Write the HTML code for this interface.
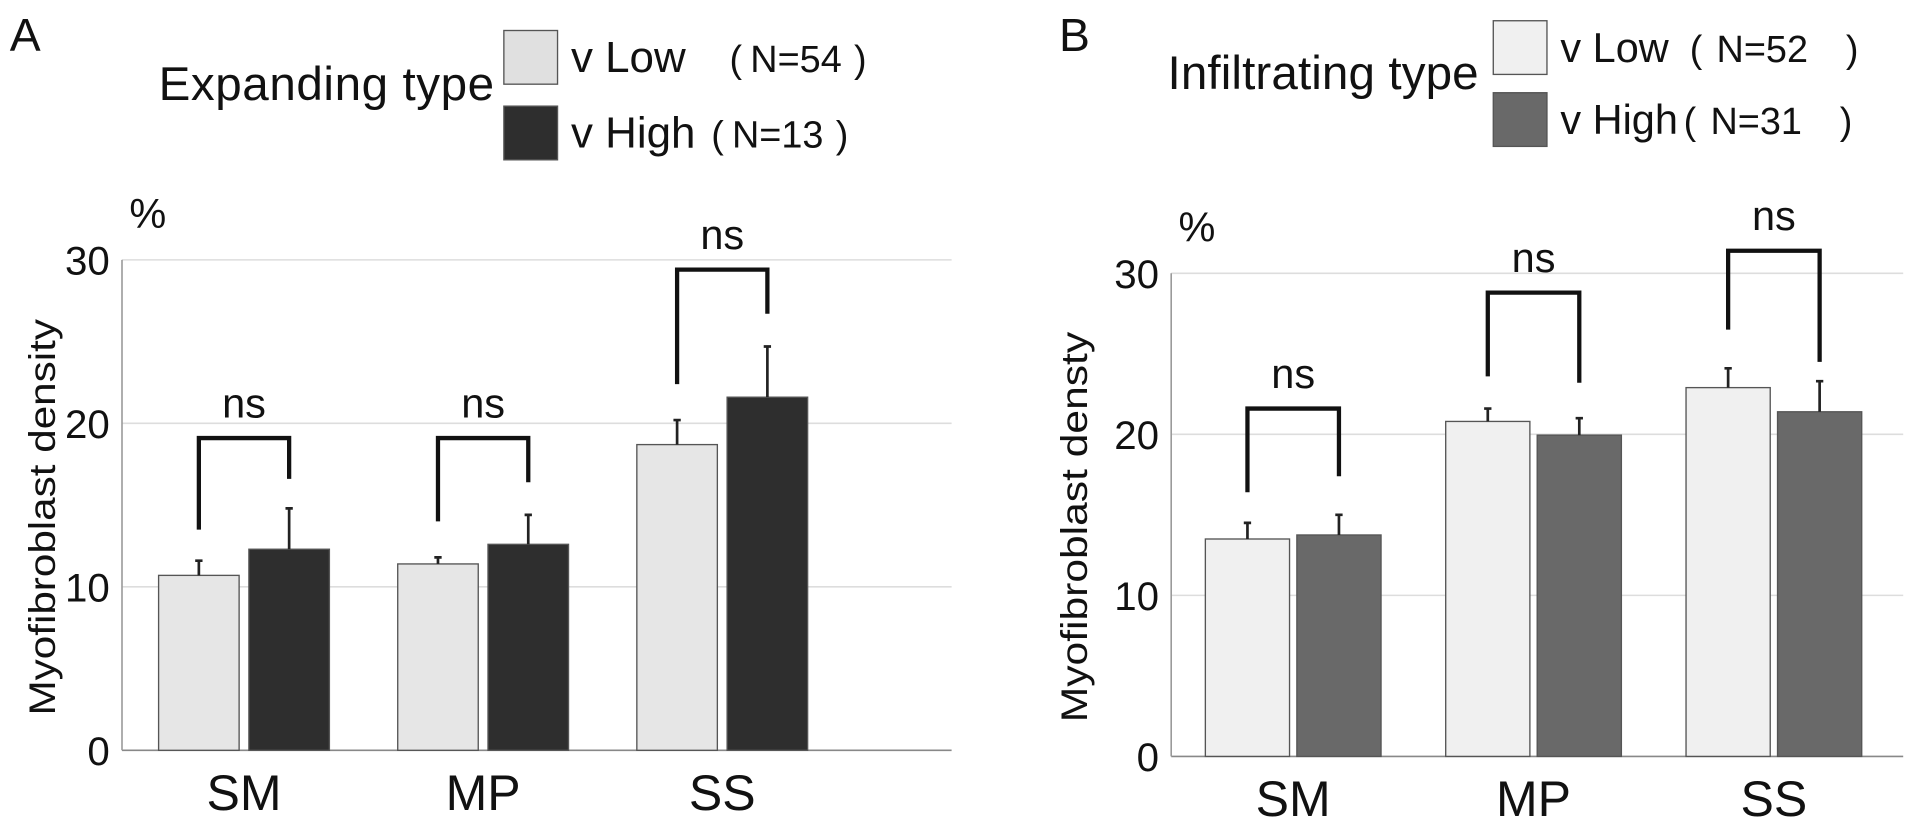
<!DOCTYPE html>
<html><head><meta charset="utf-8"><style>
body{margin:0;background:#fff;width:1913px;height:822px;overflow:hidden;font-family:"Liberation Sans",sans-serif}
</style></head><body>
<svg width="1913" height="822" xmlns="http://www.w3.org/2000/svg" font-family="Liberation Sans, sans-serif">
<g transform="scale(1.22)">
<g id="A"></g>
<g id="B"></g>
</g>
</svg>
<script>
const categories=["SM","MP","SS"];
const aLow=[10.7,11.4,18.7];
const aLowErr=[11.6,11.8,20.2];
const aHigh=[12.3,12.6,21.6];
const aHighErr=[14.8,14.4,24.7];
const aBrTop=[19.1,19.1,29.4];
const aBrL=[13.5,14.0,22.4];
const aBrR=[16.6,16.4,26.7];
const bLow=[13.5,20.8,22.9];
const bLowErr=[14.5,21.6,24.1];
const bHigh=[13.75,19.95,21.4];
const bHighErr=[15.0,21.0,23.3];
const bBrTop=[21.6,28.8,31.4];
const bBrL=[16.4,23.6,26.5];
const bBrR=[17.4,23.2,24.5];
const ticks=[0,10,20,30];
const NS="http://www.w3.org/2000/svg";
function mk(p,t,a,txt){const e=document.createElementNS(NS,t);for(const k in a)e.setAttribute(k,a[k]);if(txt!==undefined)e.textContent=txt;p.appendChild(e);return e;}
function panel(g,cfg){
 const y=v=>cfg.y0-(v/30)*(cfg.y0-cfg.y30);
 ticks.forEach(t=>{
  const l=mk(g,'line',{x1:cfg.ax,x2:cfg.ar,y1:y(t),y2:y(t),stroke:t===0?'#888':'#ddd','stroke-width':1.3});
  
  
  const tx=mk(g,'text',{x:cfg.ax-10,y:y(t)+12,'text-anchor':'end','font-size':33,fill:'#111'},t);
  
  
 });
 const ax=mk(g,'line',{x1:cfg.ax,x2:cfg.ax,y1:y(30),y2:y(0),stroke:'#999','stroke-width':1.3});
 
 
 categories.forEach((c,i)=>{
  const cx=cfg.c0+i*cfg.step;
  const xl=cx-cfg.gap/2-cfg.bw, xh=cx+cfg.gap/2;
  [[xl,cfg.low[i],cfg.lowErr[i],cfg.lowFill,'low'],[xh,cfg.high[i],cfg.highErr[i],cfg.highFill,'high']].forEach(([x,v,e,f,n])=>{
   const r=mk(g,'rect',{x:x,y:y(v),width:cfg.bw,height:y(0)-y(v),fill:f,stroke:'#555','stroke-width':1.1});
   
   
   const el=mk(g,'path',{d:`M${x+cfg.bw/2} ${y(v)}V${y(e)}M${x+cfg.bw/2-3} ${y(e)}H${x+cfg.bw/2+3}`,stroke:'#222','stroke-width':2.2,fill:'none'});
   
   
  });
  const bl=xl+cfg.bw/2, br=xh+cfg.bw/2;
  const b=mk(g,'path',{d:`M${bl} ${y(cfg.brL[i])}V${y(cfg.brTop[i])}H${br}V${y(cfg.brR[i])}`,stroke:'#111','stroke-width':3.5,fill:'none'});
  
  
  const ns=mk(g,'text',{x:(bl+br)/2,y:y(cfg.brTop[i])-17,'text-anchor':'middle','font-size':34,fill:'#111'},'ns');
  
  
  const cl=mk(g,'text',{x:cx,y:cfg.y0+49,'text-anchor':'middle','font-size':41,fill:'#111'},c);
  
  
 });
 const pc=mk(g,'text',{x:cfg.ax+6,y:cfg.y30-26,'font-size':34,fill:'#111'},'%');
 
 
 const yt=mk(g,'text',{transform:`translate(${cfg.ytx},${(cfg.y0+cfg.y30)/2+10}) rotate(-90)`,'text-anchor':'middle','font-size':30,fill:'#111',textLength:cfg.tl,lengthAdjust:'spacingAndGlyphs'},cfg.ytitle);
 
 
}
panel(document.getElementById('A'),{ax:100,ar:780,y0:615,y30:213,c0:200,step:196,bw:66,gap:8,low:aLow,lowErr:aLowErr,high:aHigh,highErr:aHighErr,brTop:aBrTop,brL:aBrL,brR:aBrR,lowFill:'#e6e6e6',highFill:'#2e2e2e',ytx:45,tl:325,ytitle:'Myofibroblast density'});
panel(document.getElementById('B'),{ax:960,ar:1560,y0:620,y30:224,c0:1060,step:197,bw:69,gap:6,low:bLow,lowErr:bLowErr,high:bHigh,highErr:bHighErr,brTop:bBrTop,brL:bBrL,brR:bBrR,lowFill:'#f0f0f0',highFill:'#696969',ytx:891,tl:320,ytitle:'Myofibroblast densty'});
function legend(g,o){
 const t=(x,y,s,fs,n,tl)=>{const a={x:x,y:y,'font-size':fs,fill:'#111'};if(tl){a.textLength=tl;a.lengthAdjust='spacing';}const e=mk(g,'text',a,s);return e;};
 t(o.px,42,o.p,38,'panel-letter');
 t(o.tx,o.ty,o.title,39,'legend-title',o.tw);
 [[o.y1,'v Low',o.n1,o.f1,'low',o.nx1],[o.y2,'v High',o.n2,o.f2,'high',o.nx2]].forEach(([yy,l,n,f,k,nx])=>{
  const r=mk(g,'rect',{x:o.bx,y:yy,width:44,height:44,fill:f,stroke:'#555','stroke-width':1.1});
  
  
  t(o.bx+55,yy+34,l,o.lf,'legend-label-'+k);
  t(nx,yy+34,'(',31,'legend-n-open-'+k);
  t(nx+o.no,yy+34,n,31,'legend-n-'+k);
  t(nx+o.nc,yy+34,')',31,'legend-n-close-'+k);
 });
}
legend(document.getElementById('A'),{px:8,p:'A',tx:130,ty:82,tw:275,title:'Expanding type',bx:413,y1:25,y2:87,lf:36,n1:'N=54',n2:'N=13',nx1:598,nx2:583,no:17,nc:102,f1:'#e0e0e0',f2:'#2e2e2e'});
legend(document.getElementById('B'),{px:868,p:'B',tx:957,ty:73,tw:255,title:'Infiltrating type',bx:1224,y1:17,y2:76,lf:34,n1:'N=52',n2:'N=31',nx1:1385,nx2:1380,no:22,nc:128,f1:'#f0f0f0',f2:'#696969'});
</script>
</body></html>
